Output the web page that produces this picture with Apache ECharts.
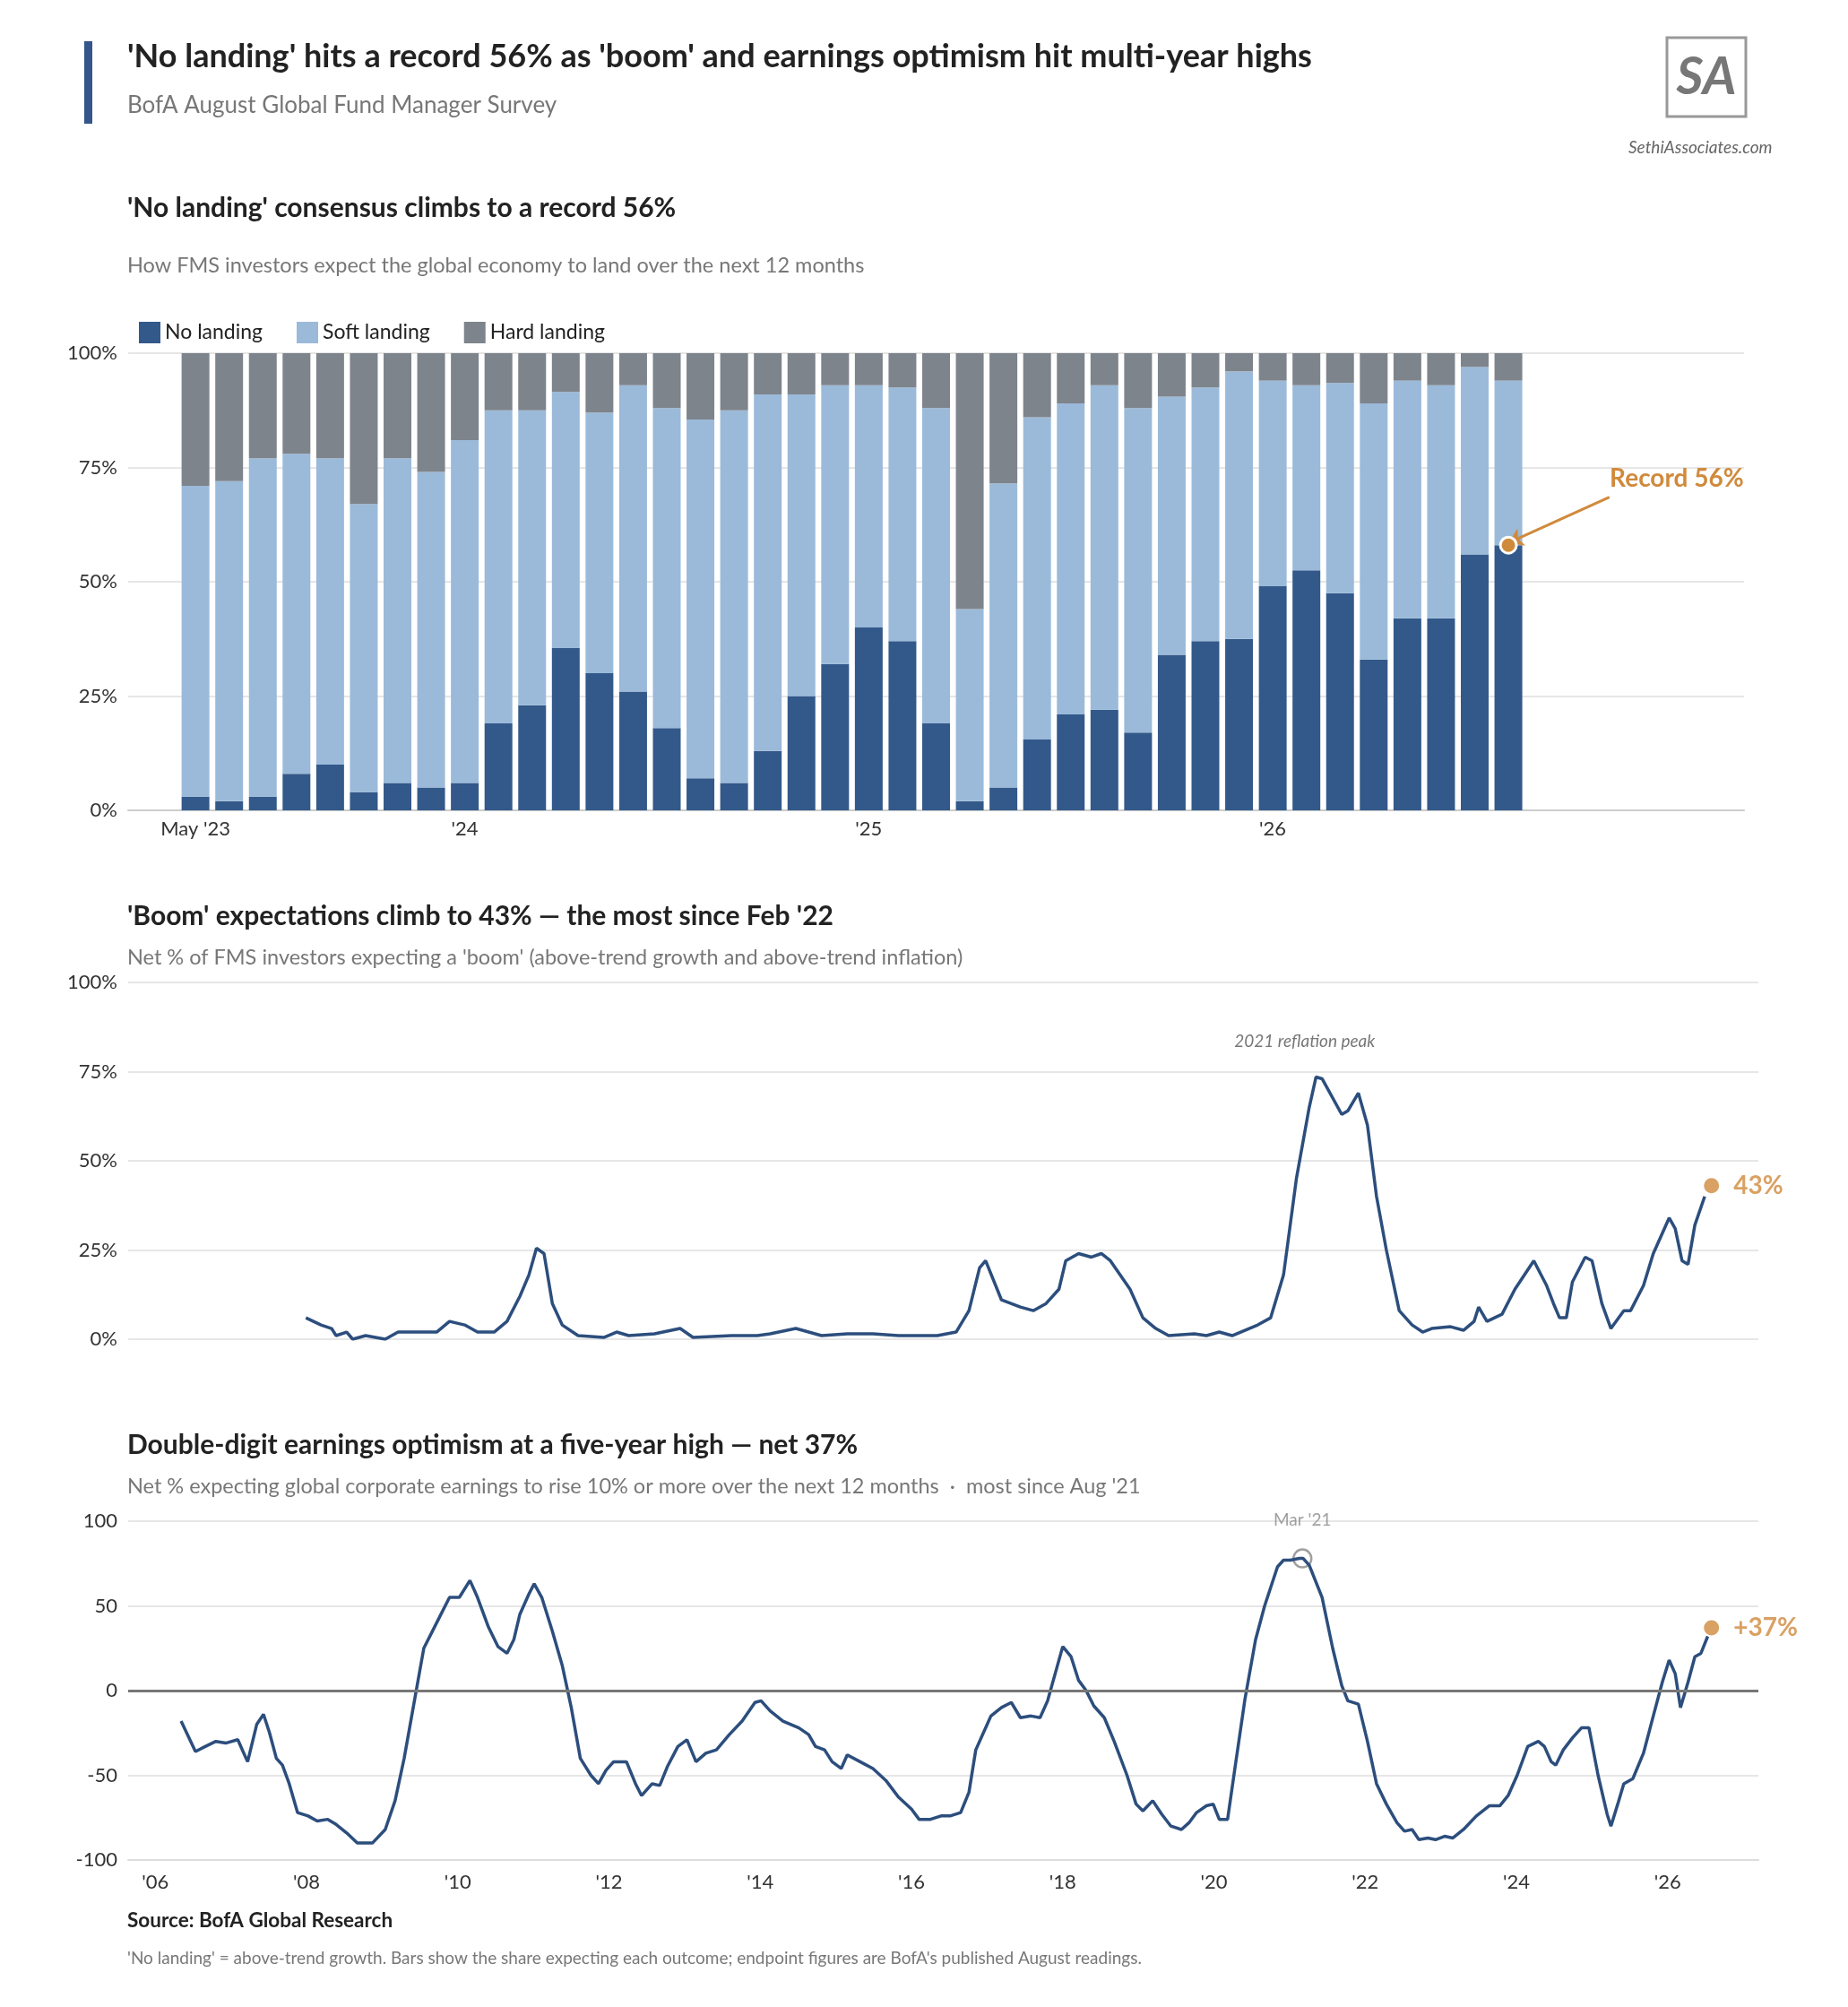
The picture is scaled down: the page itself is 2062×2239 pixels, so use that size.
<!DOCTYPE html>
<html><head><meta charset="utf-8">
<script src="https://cdn.jsdelivr.net/npm/echarts@6/dist/echarts.min.js"></script>
<style>html,body{margin:0;padding:0;background:#fff}#c{width:2062px;height:2239px}</style>
</head><body><div id="c"></div>
<script>
// ---- Landing survey (May '23 .. Aug '26) ----
const months = ["May '23","Jun '23","Jul '23","Aug '23","Sep '23","Oct '23","Nov '23","Dec '23",
 "Jan '24","Feb '24","Mar '24","Apr '24","May '24","Jun '24","Jul '24","Aug '24","Sep '24","Oct '24","Nov '24","Dec '24",
 "Jan '25","Feb '25","Mar '25","Apr '25","May '25","Jun '25","Jul '25","Aug '25","Sep '25","Oct '25","Nov '25","Dec '25",
 "Jan '26","Feb '26","Mar '26","Apr '26","May '26","Jun '26","Jul '26","Aug '26"];
const noLanding   = [3,2,3,8,10,4,6,5,6,19,23,35.5,30,26,18,7,6,13,25,32,40,37,19,2,5,15.5,21,22,17,34,37,37.5,49,52.5,47.5,33,42,42,56,58];
const softLanding = [68,70,74,70,67,63,71,69,75,68.5,64.5,56,57,67,70,78.5,81.5,78,66,61,53,55.5,69,42,66.5,70.5,68,71,71,56.5,55.5,58.5,45,40.5,46,56,52,51,41,36];
const hardLanding = [29,28,23,22,23,33,23,26,19,12.5,12.5,8.5,13,7,12,14.5,12.5,9,9,7,7,7.5,12,56,28.5,14,11,7,12,9.5,7.5,4,6,7,6.5,11,6,7,3,6];
const barTickMonths = ["May '23","Jan '24","Jan '25","Jan '26"];
const barTickLabels = ["May '23","'24","'25","'26"];

// ---- Boom expectations (year, net %) ----
const boomYears = [2007.99,2008.19,2008.33,2008.39,2008.53,2008.61,2008.78,2009.04,2009.21,2009.38,2009.72,2009.89,2010.09,2010.26,2010.48,2010.65,2010.82,2010.94,2011.04,2011.14,2011.25,2011.38,2011.59,2011.93,2012.10,2012.26,2012.60,2012.94,2013.11,2013.62,2013.96,2014.13,2014.47,2014.81,2015.15,2015.49,2015.83,2016.34,2016.59,2016.76,2016.90,2016.98,2017.19,2017.44,2017.61,2017.78,2017.95,2018.04,2018.21,2018.38,2018.51,2018.63,2018.89,2019.06,2019.23,2019.40,2019.74,2019.90,2020.07,2020.24,2020.58,2020.75,2020.92,2021.09,2021.26,2021.35,2021.43,2021.69,2021.77,2021.91,2022.03,2022.15,2022.28,2022.45,2022.62,2022.76,2022.88,2023.13,2023.30,2023.44,2023.50,2023.61,2023.81,2023.98,2024.23,2024.40,2024.49,2024.57,2024.66,2024.74,2024.91,2025.00,2025.13,2025.25,2025.42,2025.51,2025.68,2025.81,2026.02,2026.10,2026.19,2026.27,2026.36,2026.49];
const boomValues = [6,4,3,1,2,0,1,0,2,2,2,5,4,2,2,5,12,18,25.5,24,10,4,1,0.5,2,1,1.5,3,0.5,1,1,1.5,3,1,1.5,1.5,1,1,2,8,20,22,11,9,8,10,14,22,24,23,24,22,14,6,3,1,1.5,1,2,1,4,6,18,45,65,73.5,73,63,64,69,60,40,25,8,4,2,3,3.5,2.5,5,9,5,7,14,22,15,10,6,6,16,23,22,10,3,8,8,15,24,34,31,22,21,32,40];
const boomLatest = [2026.58, 43];

// ---- Earnings optimism (year, net %) ----
const epsYears = [2006.34,2006.53,2006.66,2006.80,2006.93,2007.09,2007.17,2007.22,2007.34,2007.43,2007.51,2007.60,2007.68,2007.77,2007.88,2008.02,2008.14,2008.28,2008.39,2008.53,2008.67,2008.87,2009.04,2009.17,2009.29,2009.41,2009.55,2009.72,2009.89,2010.02,2010.16,2010.26,2010.40,2010.53,2010.65,2010.74,2010.82,2010.94,2011.01,2011.11,2011.25,2011.38,2011.50,2011.62,2011.76,2011.86,2011.96,2012.06,2012.23,2012.35,2012.43,2012.57,2012.67,2012.77,2012.91,2013.03,2013.15,2013.28,2013.42,2013.59,2013.76,2013.93,2014.01,2014.13,2014.30,2014.51,2014.64,2014.73,2014.85,2014.95,2015.07,2015.15,2015.32,2015.49,2015.66,2015.83,2016.00,2016.10,2016.25,2016.39,2016.51,2016.65,2016.76,2016.85,2016.95,2017.05,2017.19,2017.32,2017.44,2017.58,2017.70,2017.80,2017.90,2018.00,2018.11,2018.21,2018.31,2018.41,2018.55,2018.68,2018.85,2018.97,2019.06,2019.19,2019.31,2019.43,2019.57,2019.67,2019.77,2019.90,2019.99,2020.07,2020.18,2020.28,2020.41,2020.55,2020.67,2020.84,2020.92,2021.01,2021.13,2021.18,2021.26,2021.43,2021.57,2021.69,2021.77,2021.91,2022.03,2022.15,2022.28,2022.42,2022.52,2022.62,2022.71,2022.83,2022.93,2023.05,2023.16,2023.30,2023.47,2023.64,2023.78,2023.89,2024.01,2024.15,2024.29,2024.37,2024.46,2024.52,2024.62,2024.74,2024.86,2024.96,2025.08,2025.20,2025.25,2025.34,2025.42,2025.54,2025.68,2025.81,2025.93,2026.02,2026.10,2026.17,2026.27,2026.36,2026.44,2026.53];
const epsValues = [-18,-36,-33,-30,-31,-29,-37,-42,-20,-14,-25,-40,-44,-55,-72,-74,-77,-76,-79,-84,-90,-90,-82,-65,-40,-10,25,40,55,55,65,55,38,26,22,30,45,57,63,55,35,15,-10,-40,-50,-55,-47,-42,-42,-55,-62,-55,-56,-45,-33,-29,-42,-37,-35,-26,-18,-7,-6,-12,-18,-22,-26,-33,-35,-42,-46,-38,-42,-46,-53,-63,-70,-76,-76,-74,-74,-72,-60,-35,-25,-15,-10,-7,-16,-15,-16,-6,10,26,20,6,0,-9,-16,-30,-50,-67,-71,-65,-73,-80,-82,-78,-72,-68,-67,-76,-76,-45,-5,30,50,73,77,77,78,78,74,55,25,3,-6,-8,-30,-55,-67,-78,-83,-82,-88,-87,-88,-86,-87,-82,-74,-68,-68,-62,-50,-33,-30,-33,-42,-44,-35,-28,-22,-22,-50,-73,-80,-67,-55,-52,-37,-15,5,18,10,-10,5,20,22,32];
const epsPeak = [2021.17, 78];
const epsLatest = [2026.58, 37];
const yearTicks = [2006,2008,2010,2012,2014,2016,2018,2020,2022,2024,2026];

const NAVY='#33598A', SOFT='#9BBADA', HARD='#7E848B', LINE='#2C4E7D', ORANGE='#D08A3C';
const FONT='Lato';
const tickLbl = {color:'#333',fontSize:22,fontFamily:FONT};
const split = {show:true,lineStyle:{color:'#E6E6E6',width:2}};

// category axis with empty padding slots before / after the survey months
const LEAD = 2, TRAIL = 7;
const barCats = [].concat(Array.from({length:LEAD},(_,i)=>'pre'+i), months, Array.from({length:TRAIL},(_,i)=>'post'+i));
const padded = arr => [].concat(Array(LEAD).fill(null), arr, Array(TRAIL).fill(null));
const lastIdx = LEAD + months.length - 1;

const chart = echarts.init(document.getElementById('c'));
const pair = (xs, ys) => xs.map((x,i)=>[x,ys[i]]);
const T = (text, top, size, bold, color, extra) => Object.assign({text, left:137, top,
  textStyle:{fontSize:size,fontWeight:bold?'bold':'normal',color,fontFamily:FONT}}, extra||{});

chart.setOption({
  backgroundColor:'#fff',
  textStyle:{fontFamily:FONT},
  animation:false,
  title:[
    T("'No landing' hits a record 56% as 'boom' and earnings optimism hit multi-year highs",40,36,true,'#222'),
    T('BofA August Global Fund Manager Survey',100,26,false,'#777'),
    {text:'SethiAssociates.com',left:1812,top:150,textStyle:{fontSize:19,fontStyle:'italic',fontWeight:'normal',color:'#666',fontFamily:FONT}},
    T("'No landing' consensus climbs to a record 56%",212,30,true,'#222'),
    T('How FMS investors expect the global economy to land over the next 12 months',279,23.5,false,'#777'),
    T("'Boom' expectations climb to 43% — the most since Feb '22",1002,30,true,'#222'),
    T("Net % of FMS investors expecting a 'boom' (above-trend growth and above-trend inflation)",1051,23.5,false,'#777'),
    T('Double-digit earnings optimism at a five-year high — net 37%',1592,30,true,'#222'),
    T("Net % expecting global corporate earnings to rise 10% or more over the next 12 months  ·  most since Aug '21",1641,23.5,false,'#777'),
    T('Source: BofA Global Research',2126,22.5,true,'#222'),
    T("'No landing' = above-trend growth. Bars show the share expecting each outcome; endpoint figures are BofA's published August readings.",2170,19,false,'#777')
  ],
  graphic:[
    {type:'rect',shape:{x:94,y:46,width:9,height:92},style:{fill:'#34568A'}},
    {type:'rect',shape:{x:1860,y:42,width:88,height:88},style:{fill:'none',stroke:'#999',lineWidth:3}},
    {type:'text',style:{x:1904,y:86,text:'SA',fill:'#777',font:'italic bold 58px Lato',textAlign:'center',textVerticalAlign:'middle'}}
  ],
  legend:{data:['No landing','Soft landing','Hard landing'],left:150,top:354,itemWidth:24,itemHeight:24,itemGap:38,icon:'rect',
    textStyle:{fontSize:23,color:'#222',fontFamily:FONT}},
  grid:[
    {left:143,right:116,top:394,height:510},
    {left:143,right:100,top:1096,height:398},
    {left:143,right:100,top:1697,height:378}
  ],
  xAxis:[
    {gridIndex:0,type:'category',data:barCats,boundaryGap:false,splitLine:{show:false},axisTick:{show:false},
      axisLine:{show:true,lineStyle:{color:'#ccc',width:2}},
      axisLabel:Object.assign({},tickLbl,{interval:(i,v)=>barTickMonths.indexOf(v)>=0,
        formatter:v=>{const k=barTickMonths.indexOf(v);return k>=0?barTickLabels[k]:'';},margin:10})},
    {gridIndex:1,type:'value',min:2005.64,max:2027.2,splitLine:{show:false},axisTick:{show:false},axisLine:{show:false},axisLabel:{show:false}},
    {gridIndex:2,type:'value',min:2005.64,max:2027.2,splitLine:{show:false},axisTick:{show:false},
      axisLine:{show:true,onZero:false,lineStyle:{color:'#ddd',width:2}},
      axisLabel:Object.assign({},tickLbl,{customValues:yearTicks,formatter:v=>"'"+String(v).slice(2),margin:14})}
  ],
  yAxis:[
    {gridIndex:0,type:'value',min:0,max:100,interval:25,splitLine:split,axisLine:{show:false},axisTick:{show:false},
      axisLabel:Object.assign({},tickLbl,{formatter:'{value}%',margin:12})},
    {gridIndex:1,type:'value',min:0,max:100,interval:25,splitLine:split,axisLine:{show:false},axisTick:{show:false},
      axisLabel:Object.assign({},tickLbl,{formatter:'{value}%',margin:12})},
    {gridIndex:2,type:'value',min:-100,max:100,interval:50,splitLine:split,axisLine:{show:false},axisTick:{show:false},
      axisLabel:Object.assign({},tickLbl,{margin:12})}
  ],
  series:[
    {name:'No landing',type:'bar',stack:'l',xAxisIndex:0,yAxisIndex:0,barWidth:31,itemStyle:{color:NAVY},
      data:padded(noLanding),
      markLine:{silent:true,symbol:['none','arrow'],symbolSize:16,lineStyle:{color:ORANGE,width:3,type:'solid'},label:{show:false},
        data:[[{coord:[lastIdx+3.4,68.5]},{coord:[lastIdx+0.35,58.5]}]]},
      markPoint:{silent:true,symbol:'circle',symbolSize:18,itemStyle:{color:ORANGE,borderColor:'#fff',borderWidth:3},
        label:{show:false},data:[{coord:[lastIdx,noLanding[noLanding.length-1]]}]}},
    {name:'Soft landing',type:'bar',stack:'l',xAxisIndex:0,yAxisIndex:0,barWidth:31,itemStyle:{color:SOFT},
      data:padded(softLanding)},
    {name:'Hard landing',type:'bar',stack:'l',xAxisIndex:0,yAxisIndex:0,barWidth:31,itemStyle:{color:HARD},
      data:padded(hardLanding),
      markPoint:{silent:true,symbol:'circle',symbolSize:1,itemStyle:{color:'transparent'},
        label:{show:true,formatter:'Record 56%',color:ORANGE,fontSize:28,fontWeight:'bold',fontFamily:FONT},
        data:[{coord:[lastIdx+4.7,72.5],value:0}]}},
    {type:'line',xAxisIndex:1,yAxisIndex:1,showSymbol:false,lineStyle:{color:LINE,width:3.5},data:pair(boomYears,boomValues),
      markPoint:{silent:true,symbol:'circle',symbolSize:1,itemStyle:{color:'transparent'},
        label:{show:true,formatter:'2021 reflation peak',color:'#777',fontSize:19,fontStyle:'italic',fontFamily:FONT},
        data:[{coord:[2021.2,83.5],value:0}]}},
    {type:'scatter',xAxisIndex:1,yAxisIndex:1,symbolSize:17,itemStyle:{color:ORANGE},data:[boomLatest],
      label:{show:true,position:'right',distance:16,formatter:p=>p.value[1]+'%',color:ORANGE,fontSize:28,fontWeight:'bold',fontFamily:FONT}},
    {type:'line',xAxisIndex:2,yAxisIndex:2,showSymbol:false,lineStyle:{color:LINE,width:3.5},data:pair(epsYears,epsValues),
      markLine:{silent:true,symbol:'none',label:{show:false},lineStyle:{color:'#777',width:3,type:'solid'},data:[{yAxis:0}]}},
    {type:'scatter',xAxisIndex:2,yAxisIndex:2,symbolSize:20,itemStyle:{color:'rgba(0,0,0,0)',borderColor:'#888',borderWidth:2.5},data:[epsPeak],
      label:{show:true,position:'top',distance:22,formatter:"Mar '21",color:'#888',fontSize:19,fontFamily:FONT}},
    {type:'scatter',xAxisIndex:2,yAxisIndex:2,symbolSize:17,itemStyle:{color:ORANGE},data:[epsLatest],
      label:{show:true,position:'right',distance:16,formatter:p=>'+'+p.value[1]+'%',color:ORANGE,fontSize:28,fontWeight:'bold',fontFamily:FONT}}
  ]
});
</script></body></html>
